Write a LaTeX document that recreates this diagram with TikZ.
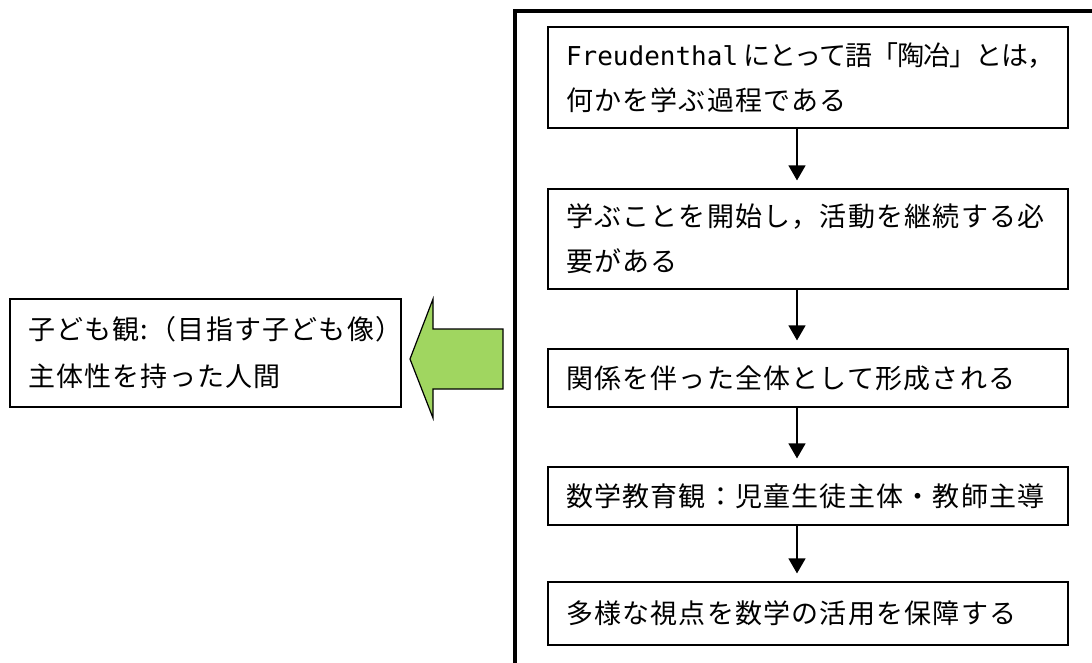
\documentclass[tikz,border=0pt]{standalone}
\usepackage{fontspec}
\newfontfamily\jp[LetterSpace=4.5]{Noto Sans CJK JP}
\newfontfamily\mono{DejaVu Sans Mono}
\usetikzlibrary{arrows.meta}
\definecolor{arrowgreen}{RGB}{160,214,96}
\begin{document}
\begin{tikzpicture}[x=1pt,y=-1pt,
  box/.style={draw, line width=1.2pt, align=left, inner xsep=18pt, inner ysep=0pt,
    minimum width=520pt, text width=484pt, font=\jp\fontsize{27}{45}\selectfont},
  sidebox/.style={draw, line width=1.2pt, align=left, inner xsep=18pt, inner ysep=0pt,
    minimum width=391pt, text width=355pt, minimum height=108pt,
    font=\jp\fontsize{27}{47}\selectfont},
  flow/.style={line width=1.3pt, -{Triangle[width=17pt,length=15pt]}, shorten >=8pt},
  frame/.style={line width=4pt},
  bigarrow/.style={draw, line width=1.2pt, fill=arrowgreen, line join=miter}]
\useasboundingbox (0,0) rectangle (1092,662);

% outer frame
\coordinate (fbl) at (515,670);
\coordinate (ftl) at (515,11);
\coordinate (ftr) at (1100,11);
\draw[frame] (fbl) -- (ftl) -- (ftr);

% flow boxes
\node[box, minimum height=101pt] (b1) at (808,77.5)
  {\mbox{{\mono\fontsize{26}{45}\selectfont Freudenthal}\hspace{5pt}{\addfontfeature{LetterSpace=-3.5}にとって語「陶冶」とは，}}\\何かを学ぶ過程である};
\node[box, minimum height=100pt] (b2) at (808,239)
  {学ぶことを開始し，活動を継続する必\\要がある};
\node[box, minimum height=58pt] (b3) at (808,378) {関係を伴った全体として形成される};
\node[box, minimum height=58pt] (b4) at (808,496) {数学教育観：児童生徒主体・教師主導};
\node[box, minimum height=63pt] (b5) at (808,613.5) {多様な視点を数学の活用を保障する};

\coordinate (ax) at (797,0);
\draw[flow] (b1.south -| ax) -- (b2.north -| ax);
\draw[flow] (b2.south -| ax) -- (b3.north -| ax);
\draw[flow] (b3.south -| ax) -- (b4.north -| ax);
\draw[flow] (b4.south -| ax) -- (b5.north -| ax);

% side box
\node[sidebox] (side) at (205.5,353) {子ども観:（目指す子ども像）\\主体性を持った人間};

% big green arrow pointing left
\path[bigarrow] (410,359) -- (433,299) -- (433,329) -- (503,329) -- (503,389)
  -- (433,389) -- (433,418) -- cycle;
\end{tikzpicture}
\end{document}
